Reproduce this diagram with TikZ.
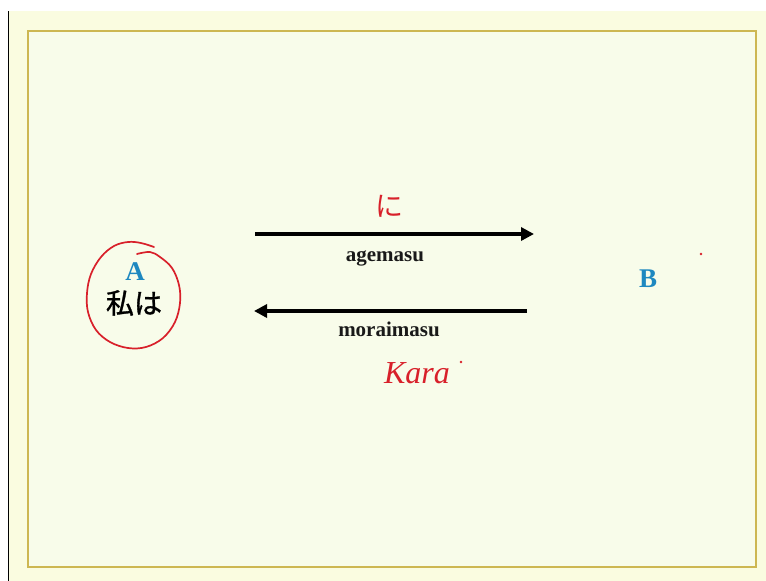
\documentclass[tikz,border=0pt]{standalone}
\usepackage{fontspec}
\setmainfont{Liberation Serif}
\newfontfamily\jpfont{Noto Sans CJK JP}
\newfontfamily\jpmed[FakeBold=1.2]{Noto Sans CJK JP}
\usetikzlibrary{arrows.meta}
\definecolor{bgyellow}{HTML}{FAFCE0}
\definecolor{innerbg}{HTML}{F8FCEA}
\definecolor{gold}{HTML}{CDB752}
\definecolor{lblue}{HTML}{1E88C0}
\definecolor{inkred}{HTML}{D8202A}
\tikzset{
  letter/.style={font=\bfseries\fontsize{27}{29}\selectfont, text=lblue, inner sep=0pt, anchor=base},
  verb/.style={font=\bfseries\fontsize{21}{23}\selectfont, text=black!90, inner sep=0pt, anchor=base},
  bigarrow/.style={line width=3.6pt, -{Triangle[length=13pt,width=13pt]}},
  ink/.style={draw=inkred, line width=1.7pt, line cap=round, line join=round},
}
\begin{document}
\begin{tikzpicture}[x=1pt,y=-1pt]
\useasboundingbox (0,0) rectangle (766,581);
\fill[white] (0,0) rectangle (766,581);
\fill[bgyellow] (9,11) rectangle (766,581);
\draw[black, line width=1.4pt] (8.5,11) -- (8.5,581);
\draw[gold, line width=2pt, fill=innerbg] (27.5,30.5) rectangle (756,567);
% nodes
\node[letter] (A) at (135,280) {A};
\node[font=\jpmed\fontsize{28}{30}\selectfont, inner sep=0pt] (wa) at (134,303) {私は};
\node[letter] (B) at (648,287) {B};
% arrows
\coordinate (a1s) at (255,234);
\coordinate (a1e) at (534,234);
\coordinate (a2s) at (527,311);
\coordinate (a2e) at (254,311);
\draw[bigarrow] (a1s) -- (a1e);
\draw[bigarrow] (a2s) -- (a2e);
\node[verb] (age) at (385,261) {agemasu};
\node[verb] (mor) at (389,336) {moraimasu};
% handwritten red annotations
\node[font=\jpfont\fontsize{28}{30}\selectfont, text=inkred, inner sep=0pt] (ni) at (389,206) {に};
\node[font=\itshape\fontsize{32}{34}\selectfont, text=inkred, inner sep=0pt] (kara) at (417,373) {Kara};
\fill[inkred] (461,362) circle (1.3);
\fill[inkred] (701,254) circle (1.3);
% hand-drawn circle around A / 私は
\draw[ink] plot[smooth, tension=0.6] coordinates {
  (137,254) (150,252) (160,257) (172,268) (179,285) (180,303) (175,322)
  (163,338) (146,347) (128,348) (110,342) (96,330) (88,312) (87,293)
  (91,274) (101,257) (114,246) (128,242) (141,243) (154,247)};
\end{tikzpicture}
\end{document}
